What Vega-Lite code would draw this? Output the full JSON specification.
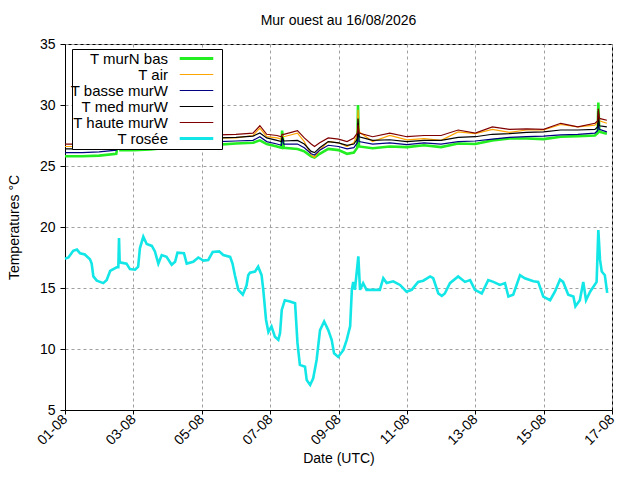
{
  "$schema": "https://vega.github.io/schema/vega-lite/v6.json",
  "autosize": "none",
  "width": 547,
  "height": 366,
  "padding": {"left": 65, "top": 44, "right": 28, "bottom": 70},
  "title": {"text": "Mur ouest au 16/08/2026", "font": "Liberation Sans", "fontSize": 14, "fontWeight": "normal", "offset": 9},
  "data": {
    "values": [
      {"t": "2026-08-01T00:00Z", "T murN bas": 25.8, "T basse murW": 26.1, "T med murW": 26.4, "T air": 26.6, "T haute murW": 26.8},
      {"t": "2026-08-01T12:00Z", "T murN bas": 25.8, "T basse murW": 26.1, "T med murW": 26.4, "T air": 26.6, "T haute murW": 26.8},
      {"t": "2026-08-02T00:00Z", "T murN bas": 25.85, "T basse murW": 26.15, "T med murW": 26.45, "T air": 26.7, "T haute murW": 26.9},
      {"t": "2026-08-02T12:00Z", "T murN bas": 26.0, "T basse murW": 26.3, "T med murW": 26.6, "T air": 26.85, "T haute murW": 27.05},
      {"t": "2026-08-02T13:41Z", "T murN bas": 27.3, "T basse murW": 27.0, "T med murW": 27.1, "T air": 27.3, "T haute murW": 27.4},
      {"t": "2026-08-02T14:53Z", "T murN bas": 26.3, "T basse murW": 26.55, "T med murW": 26.9, "T air": 27.2, "T haute murW": 27.3},
      {"t": "2026-08-03T00:00Z", "T murN bas": 26.3, "T basse murW": 26.6, "T med murW": 26.95, "T air": 27.25, "T haute murW": 27.45},
      {"t": "2026-08-03T12:00Z", "T murN bas": 26.35, "T basse murW": 26.65, "T med murW": 27.0, "T air": 27.3, "T haute murW": 27.5},
      {"t": "2026-08-04T00:00Z", "T murN bas": 26.5, "T basse murW": 26.8, "T med murW": 27.1, "T air": 27.4, "T haute murW": 27.6},
      {"t": "2026-08-04T12:00Z", "T murN bas": 26.6, "T basse murW": 26.9, "T med murW": 27.2, "T air": 27.35, "T haute murW": 27.6},
      {"t": "2026-08-05T00:00Z", "T murN bas": 26.7, "T basse murW": 26.95, "T med murW": 27.25, "T air": 27.35, "T haute murW": 27.6},
      {"t": "2026-08-05T12:00Z", "T murN bas": 26.75, "T basse murW": 27.0, "T med murW": 27.3, "T air": 27.3, "T haute murW": 27.55},
      {"t": "2026-08-06T00:00Z", "T murN bas": 26.85, "T basse murW": 27.05, "T med murW": 27.35, "T air": 27.3, "T haute murW": 27.6},
      {"t": "2026-08-06T12:00Z", "T murN bas": 26.9, "T basse murW": 27.1, "T med murW": 27.45, "T air": 27.5, "T haute murW": 27.7},
      {"t": "2026-08-06T16:48Z", "T murN bas": 27.1, "T basse murW": 27.4, "T med murW": 27.7, "T air": 28.1, "T haute murW": 28.3},
      {"t": "2026-08-06T21:36Z", "T murN bas": 26.8, "T basse murW": 27.0, "T med murW": 27.3, "T air": 27.4, "T haute murW": 27.6},
      {"t": "2026-08-07T04:48Z", "T murN bas": 26.6, "T basse murW": 26.8, "T med murW": 27.1, "T air": 27.3, "T haute murW": 27.5},
      {"t": "2026-08-07T07:55Z", "T murN bas": 26.5, "T basse murW": 26.7, "T med murW": 27.0, "T air": 27.2, "T haute murW": 27.4},
      {"t": "2026-08-07T08:24Z", "T murN bas": 27.9, "T basse murW": 27.3, "T med murW": 27.4, "T air": 27.5, "T haute murW": 27.6},
      {"t": "2026-08-07T09:36Z", "T murN bas": 26.5, "T basse murW": 26.8, "T med murW": 27.05, "T air": 27.4, "T haute murW": 27.6},
      {"t": "2026-08-07T19:12Z", "T murN bas": 26.4, "T basse murW": 26.8, "T med murW": 27.1, "T air": 27.7, "T haute murW": 27.9},
      {"t": "2026-08-08T00:00Z", "T murN bas": 26.2, "T basse murW": 26.5, "T med murW": 26.8, "T air": 27.0, "T haute murW": 27.3},
      {"t": "2026-08-08T04:48Z", "T murN bas": 25.8, "T basse murW": 26.0, "T med murW": 26.2, "T air": 25.9, "T haute murW": 26.8},
      {"t": "2026-08-08T07:12Z", "T murN bas": 25.7, "T basse murW": 25.9, "T med murW": 26.1, "T air": 25.7, "T haute murW": 26.6},
      {"t": "2026-08-08T10:48Z", "T murN bas": 26.0, "T basse murW": 26.3, "T med murW": 26.5, "T air": 26.3, "T haute murW": 26.9},
      {"t": "2026-08-08T16:48Z", "T murN bas": 26.4, "T basse murW": 26.7, "T med murW": 27.0, "T air": 27.0, "T haute murW": 27.3},
      {"t": "2026-08-09T00:00Z", "T murN bas": 26.3, "T basse murW": 26.6, "T med murW": 26.9, "T air": 26.9, "T haute murW": 27.2},
      {"t": "2026-08-09T06:00Z", "T murN bas": 26.0, "T basse murW": 26.4, "T med murW": 26.7, "T air": 26.6, "T haute murW": 27.0},
      {"t": "2026-08-09T10:48Z", "T murN bas": 26.1, "T basse murW": 26.5, "T med murW": 26.8, "T air": 26.9, "T haute murW": 27.3},
      {"t": "2026-08-09T13:12Z", "T murN bas": 26.5, "T basse murW": 26.9, "T med murW": 27.2, "T air": 27.6, "T haute murW": 27.7},
      {"t": "2026-08-09T13:41Z", "T murN bas": 30.0, "T basse murW": 28.5, "T med murW": 28.9, "T air": 29.6, "T haute murW": 28.4},
      {"t": "2026-08-09T14:24Z", "T murN bas": 26.6, "T basse murW": 27.0, "T med murW": 27.4, "T air": 27.8, "T haute murW": 27.7},
      {"t": "2026-08-10T00:00Z", "T murN bas": 26.45, "T basse murW": 26.8, "T med murW": 27.1, "T air": 27.0, "T haute murW": 27.4},
      {"t": "2026-08-10T12:00Z", "T murN bas": 26.6, "T basse murW": 26.9, "T med murW": 27.15, "T air": 27.5, "T haute murW": 27.7},
      {"t": "2026-08-11T00:00Z", "T murN bas": 26.55, "T basse murW": 26.75, "T med murW": 27.0, "T air": 27.15, "T haute murW": 27.4},
      {"t": "2026-08-11T12:00Z", "T murN bas": 26.7, "T basse murW": 26.9, "T med murW": 27.1, "T air": 27.25, "T haute murW": 27.5},
      {"t": "2026-08-12T00:00Z", "T murN bas": 26.55, "T basse murW": 26.8, "T med murW": 27.1, "T air": 27.1, "T haute murW": 27.5},
      {"t": "2026-08-12T12:00Z", "T murN bas": 26.85, "T basse murW": 27.0, "T med murW": 27.35, "T air": 27.8, "T haute murW": 27.95},
      {"t": "2026-08-13T00:00Z", "T murN bas": 26.8, "T basse murW": 27.05, "T med murW": 27.4, "T air": 27.65, "T haute murW": 27.7},
      {"t": "2026-08-13T12:00Z", "T murN bas": 27.1, "T basse murW": 27.2, "T med murW": 27.6, "T air": 28.0, "T haute murW": 28.2},
      {"t": "2026-08-14T00:00Z", "T murN bas": 27.25, "T basse murW": 27.35, "T med murW": 27.65, "T air": 27.75, "T haute murW": 28.0},
      {"t": "2026-08-14T12:00Z", "T murN bas": 27.25, "T basse murW": 27.4, "T med murW": 27.75, "T air": 27.95, "T haute murW": 28.05},
      {"t": "2026-08-15T00:00Z", "T murN bas": 27.2, "T basse murW": 27.45, "T med murW": 27.8, "T air": 27.95, "T haute murW": 28.0},
      {"t": "2026-08-15T12:00Z", "T murN bas": 27.4, "T basse murW": 27.55, "T med murW": 27.95, "T air": 28.4, "T haute murW": 28.5},
      {"t": "2026-08-16T00:00Z", "T murN bas": 27.45, "T basse murW": 27.6, "T med murW": 27.95, "T air": 28.2, "T haute murW": 28.2},
      {"t": "2026-08-16T12:00Z", "T murN bas": 27.5, "T basse murW": 27.7, "T med murW": 28.0, "T air": 28.35, "T haute murW": 28.5},
      {"t": "2026-08-16T13:55Z", "T murN bas": 27.7, "T basse murW": 27.9, "T med murW": 28.2, "T air": 28.6, "T haute murW": 28.7},
      {"t": "2026-08-16T14:24Z", "T murN bas": 30.2, "T basse murW": 28.5, "T med murW": 29.5, "T air": 29.0, "T haute murW": 29.7},
      {"t": "2026-08-16T15:07Z", "T murN bas": 27.8, "T basse murW": 28.0, "T med murW": 28.3, "T air": 28.7, "T haute murW": 28.9},
      {"t": "2026-08-16T20:24Z", "T murN bas": 27.65, "T basse murW": 27.8, "T med murW": 28.2, "T air": 28.5, "T haute murW": 28.75},
      {"t": "2026-08-01T00:00Z", "T rosée": 17.4},
      {"t": "2026-08-01T02:24Z", "T rosée": 17.5},
      {"t": "2026-08-01T05:46Z", "T rosée": 18.05},
      {"t": "2026-08-01T08:24Z", "T rosée": 18.15},
      {"t": "2026-08-01T10:34Z", "T rosée": 17.85},
      {"t": "2026-08-01T13:55Z", "T rosée": 17.75},
      {"t": "2026-08-01T17:31Z", "T rosée": 17.35},
      {"t": "2026-08-01T18:43Z", "T rosée": 17.0},
      {"t": "2026-08-01T19:55Z", "T rosée": 15.95},
      {"t": "2026-08-01T22:19Z", "T rosée": 15.6},
      {"t": "2026-08-02T02:53Z", "T rosée": 15.4},
      {"t": "2026-08-02T05:17Z", "T rosée": 15.65},
      {"t": "2026-08-02T07:41Z", "T rosée": 16.4},
      {"t": "2026-08-02T12:14Z", "T rosée": 16.7},
      {"t": "2026-08-02T13:26Z", "T rosée": 16.7},
      {"t": "2026-08-02T13:55Z", "T rosée": 19.1},
      {"t": "2026-08-02T14:24Z", "T rosée": 17.1},
      {"t": "2026-08-02T19:12Z", "T rosée": 17.0},
      {"t": "2026-08-02T21:36Z", "T rosée": 16.55},
      {"t": "2026-08-03T01:12Z", "T rosée": 16.5},
      {"t": "2026-08-03T03:22Z", "T rosée": 16.75},
      {"t": "2026-08-03T04:34Z", "T rosée": 18.25},
      {"t": "2026-08-03T06:58Z", "T rosée": 19.2},
      {"t": "2026-08-03T09:22Z", "T rosée": 18.6},
      {"t": "2026-08-03T12:58Z", "T rosée": 18.45},
      {"t": "2026-08-03T15:07Z", "T rosée": 18.0},
      {"t": "2026-08-03T17:31Z", "T rosée": 17.0},
      {"t": "2026-08-03T19:55Z", "T rosée": 17.7},
      {"t": "2026-08-03T23:17Z", "T rosée": 17.55},
      {"t": "2026-08-04T02:53Z", "T rosée": 16.9},
      {"t": "2026-08-04T05:17Z", "T rosée": 17.15},
      {"t": "2026-08-04T06:58Z", "T rosée": 17.9},
      {"t": "2026-08-04T11:31Z", "T rosée": 17.85},
      {"t": "2026-08-04T13:26Z", "T rosée": 17.0},
      {"t": "2026-08-04T18:00Z", "T rosée": 17.15},
      {"t": "2026-08-04T21:36Z", "T rosée": 17.5},
      {"t": "2026-08-05T01:12Z", "T rosée": 17.25},
      {"t": "2026-08-05T04:34Z", "T rosée": 17.3},
      {"t": "2026-08-05T07:41Z", "T rosée": 17.95},
      {"t": "2026-08-05T12:14Z", "T rosée": 18.0},
      {"t": "2026-08-05T15:07Z", "T rosée": 17.7},
      {"t": "2026-08-05T19:55Z", "T rosée": 17.55},
      {"t": "2026-08-05T21:36Z", "T rosée": 17.0},
      {"t": "2026-08-05T23:17Z", "T rosée": 16.05},
      {"t": "2026-08-06T01:41Z", "T rosée": 14.85},
      {"t": "2026-08-06T04:48Z", "T rosée": 14.45},
      {"t": "2026-08-06T07:26Z", "T rosée": 15.2},
      {"t": "2026-08-06T08:38Z", "T rosée": 16.05},
      {"t": "2026-08-06T09:50Z", "T rosée": 16.25},
      {"t": "2026-08-06T13:26Z", "T rosée": 16.35},
      {"t": "2026-08-06T15:36Z", "T rosée": 16.75},
      {"t": "2026-08-06T18:00Z", "T rosée": 16.05},
      {"t": "2026-08-06T19:12Z", "T rosée": 14.85},
      {"t": "2026-08-06T21:07Z", "T rosée": 12.4},
      {"t": "2026-08-06T22:48Z", "T rosée": 11.4},
      {"t": "2026-08-07T00:58Z", "T rosée": 11.85},
      {"t": "2026-08-07T03:22Z", "T rosée": 11.0},
      {"t": "2026-08-07T05:46Z", "T rosée": 10.75},
      {"t": "2026-08-07T06:58Z", "T rosée": 11.3},
      {"t": "2026-08-07T08:10Z", "T rosée": 13.2},
      {"t": "2026-08-07T10:19Z", "T rosée": 14.0},
      {"t": "2026-08-07T13:55Z", "T rosée": 13.9},
      {"t": "2026-08-07T17:31Z", "T rosée": 13.75},
      {"t": "2026-08-07T19:12Z", "T rosée": 10.5},
      {"t": "2026-08-07T20:53Z", "T rosée": 8.7},
      {"t": "2026-08-08T00:29Z", "T rosée": 8.55},
      {"t": "2026-08-08T01:41Z", "T rosée": 7.45},
      {"t": "2026-08-08T04:05Z", "T rosée": 7.05},
      {"t": "2026-08-08T06:14Z", "T rosée": 7.6},
      {"t": "2026-08-08T08:38Z", "T rosée": 9.1},
      {"t": "2026-08-08T11:02Z", "T rosée": 11.55},
      {"t": "2026-08-08T13:55Z", "T rosée": 12.25},
      {"t": "2026-08-08T16:48Z", "T rosée": 11.55},
      {"t": "2026-08-08T19:12Z", "T rosée": 10.75},
      {"t": "2026-08-08T20:53Z", "T rosée": 9.65},
      {"t": "2026-08-08T23:46Z", "T rosée": 9.35},
      {"t": "2026-08-09T03:22Z", "T rosée": 9.9},
      {"t": "2026-08-09T05:46Z", "T rosée": 10.75},
      {"t": "2026-08-09T08:10Z", "T rosée": 11.85},
      {"t": "2026-08-09T09:22Z", "T rosée": 14.85},
      {"t": "2026-08-09T10:19Z", "T rosée": 15.5},
      {"t": "2026-08-09T11:31Z", "T rosée": 14.85},
      {"t": "2026-08-09T13:55Z", "T rosée": 17.6},
      {"t": "2026-08-09T15:07Z", "T rosée": 14.85},
      {"t": "2026-08-09T17:17Z", "T rosée": 15.4},
      {"t": "2026-08-09T19:41Z", "T rosée": 14.85},
      {"t": "2026-08-10T02:53Z", "T rosée": 14.85},
      {"t": "2026-08-10T05:02Z", "T rosée": 14.85},
      {"t": "2026-08-10T07:26Z", "T rosée": 15.8},
      {"t": "2026-08-10T09:50Z", "T rosée": 15.4},
      {"t": "2026-08-10T14:24Z", "T rosée": 15.55},
      {"t": "2026-08-10T19:12Z", "T rosée": 15.25},
      {"t": "2026-08-10T23:46Z", "T rosée": 14.7},
      {"t": "2026-08-11T03:22Z", "T rosée": 14.85},
      {"t": "2026-08-11T07:55Z", "T rosée": 15.5},
      {"t": "2026-08-11T11:31Z", "T rosée": 15.6},
      {"t": "2026-08-11T16:19Z", "T rosée": 15.95},
      {"t": "2026-08-11T18:29Z", "T rosée": 15.8},
      {"t": "2026-08-11T22:05Z", "T rosée": 14.55},
      {"t": "2026-08-12T00:29Z", "T rosée": 14.35},
      {"t": "2026-08-12T02:38Z", "T rosée": 14.55},
      {"t": "2026-08-12T06:14Z", "T rosée": 15.4},
      {"t": "2026-08-12T12:00Z", "T rosée": 15.95},
      {"t": "2026-08-12T16:48Z", "T rosée": 15.5},
      {"t": "2026-08-12T20:24Z", "T rosée": 15.65},
      {"t": "2026-08-12T23:46Z", "T rosée": 14.85},
      {"t": "2026-08-13T04:34Z", "T rosée": 14.55},
      {"t": "2026-08-13T09:07Z", "T rosée": 15.65},
      {"t": "2026-08-13T12:43Z", "T rosée": 15.5},
      {"t": "2026-08-13T17:17Z", "T rosée": 15.25},
      {"t": "2026-08-13T20:53Z", "T rosée": 15.4},
      {"t": "2026-08-13T23:17Z", "T rosée": 14.3},
      {"t": "2026-08-14T02:38Z", "T rosée": 14.45},
      {"t": "2026-08-14T05:02Z", "T rosée": 15.25},
      {"t": "2026-08-14T07:26Z", "T rosée": 16.05},
      {"t": "2026-08-14T10:48Z", "T rosée": 15.8},
      {"t": "2026-08-14T16:48Z", "T rosée": 15.55},
      {"t": "2026-08-14T20:10Z", "T rosée": 15.5},
      {"t": "2026-08-14T23:46Z", "T rosée": 14.3},
      {"t": "2026-08-15T04:34Z", "T rosée": 14.0},
      {"t": "2026-08-15T07:55Z", "T rosée": 14.7},
      {"t": "2026-08-15T11:31Z", "T rosée": 15.7},
      {"t": "2026-08-15T13:41Z", "T rosée": 15.5},
      {"t": "2026-08-15T17:17Z", "T rosée": 14.45},
      {"t": "2026-08-15T20:53Z", "T rosée": 14.3},
      {"t": "2026-08-15T22:19Z", "T rosée": 13.5},
      {"t": "2026-08-16T01:26Z", "T rosée": 14.0},
      {"t": "2026-08-16T03:50Z", "T rosée": 15.5},
      {"t": "2026-08-16T05:46Z", "T rosée": 14.0},
      {"t": "2026-08-16T08:38Z", "T rosée": 14.7},
      {"t": "2026-08-16T13:12Z", "T rosée": 15.5},
      {"t": "2026-08-16T14:24Z", "T rosée": 19.75},
      {"t": "2026-08-16T15:36Z", "T rosée": 17.3},
      {"t": "2026-08-16T16:48Z", "T rosée": 16.35},
      {"t": "2026-08-16T18:58Z", "T rosée": 16.05},
      {"t": "2026-08-16T20:38Z", "T rosée": 14.6}
    ]
  },
  "transform": [
    {"fold": ["T murN bas", "T air", "T basse murW", "T med murW", "T haute murW", "T rosée"], "as": ["serie", "temp"]},
    {"filter": "isValid(datum.temp)"}
  ],
  "encoding": {
    "x": {
      "field": "t",
      "type": "temporal",
      "scale": {
        "type": "utc",
        "domain": [
          {"year": 2026, "month": 8, "date": 1, "utc": true},
          {"year": 2026, "month": 8, "date": 17, "utc": true}
        ]
      },
      "axis": {
        "title": "Date (UTC)",
        "format": "%d-%m",
        "values": [
          {"year": 2026, "month": 8, "date": 1, "utc": true},
          {"year": 2026, "month": 8, "date": 3, "utc": true},
          {"year": 2026, "month": 8, "date": 5, "utc": true},
          {"year": 2026, "month": 8, "date": 7, "utc": true},
          {"year": 2026, "month": 8, "date": 9, "utc": true},
          {"year": 2026, "month": 8, "date": 11, "utc": true},
          {"year": 2026, "month": 8, "date": 13, "utc": true},
          {"year": 2026, "month": 8, "date": 15, "utc": true},
          {"year": 2026, "month": 8, "date": 17, "utc": true}
        ],
        "labelAngle": -45,
        "labelAlign": "right",
        "labelBaseline": "middle",
        "labelPadding": 3,
        "titlePadding": 4,
        "tickSize": 4
      }
    },
    "y": {
      "field": "temp",
      "type": "quantitative",
      "scale": {"domain": [5, 35], "nice": false, "zero": false},
      "axis": {
        "title": "Temperatures °C",
        "values": [5, 10, 15, 20, 25, 30, 35],
        "tickSize": 5,
        "labelPadding": 5,
        "titlePadding": 18
      }
    },
    "color": {
      "field": "serie",
      "type": "nominal",
      "scale": {
        "domain": ["T murN bas", "T air", "T basse murW", "T med murW", "T haute murW", "T rosée"],
        "range": ["#22ee22", "#ffa500", "#000080", "#000000", "#800000", "#12e6e6"]
      },
      "legend": {
        "title": null,
        "orient": "none",
        "legendX": 7,
        "legendY": 5,
        "strokeColor": "black",
        "fillColor": "white",
        "padding": 2,
        "rowPadding": -1,
        "symbolType": "M-2.5,0H2.5",
        "symbolSize": 180,
        "symbolOffset": 115,
        "labelAlign": "right",
        "labelOffset": -36,
        "labelFontSize": 15,
        "labelLimit": 220,
        "encode": {
          "symbols": {
            "update": {
              "strokeWidth": {"signal": "datum.value == 'T murN bas' || datum.value == 'T rosée' ? 3 : 1.2"}
            }
          }
        }
      }
    }
  },
  "layer": [
    {
      "transform": [{"filter": "datum.serie == 'T murN bas' || datum.serie == 'T rosée'"}],
      "mark": {"type": "line", "strokeWidth": 2.6}
    },
    {
      "transform": [{"filter": "datum.serie != 'T murN bas' && datum.serie != 'T rosée'"}],
      "mark": {"type": "line", "strokeWidth": 1.2}
    }
  ],
  "config": {
    "font": "Liberation Sans",
    "view": {"stroke": "black", "strokeWidth": 1},
    "axis": {
      "domainColor": "black",
      "tickColor": "black",
      "labelColor": "black",
      "titleColor": "black",
      "labelFontSize": 14,
      "titleFontSize": 14,
      "titleFontWeight": "normal",
      "grid": true,
      "gridColor": "#a0a0a0",
      "gridDash": [3, 3],
      "gridWidth": 1
    }
  }
}
